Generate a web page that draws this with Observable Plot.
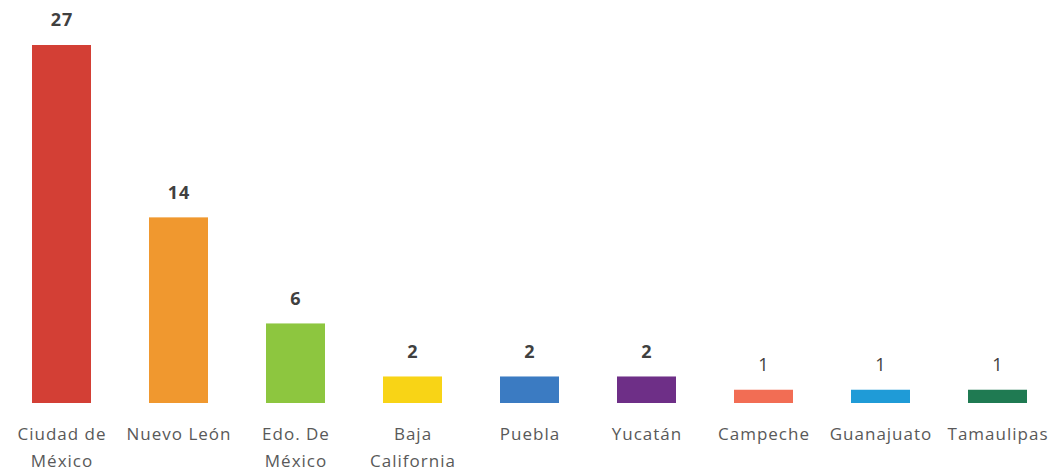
<!DOCTYPE html>
<html><head><meta charset="utf-8">
<script src="https://cdn.jsdelivr.net/npm/d3@7"></script>
<script src="https://cdn.jsdelivr.net/npm/@observablehq/plot@0.6"></script>
<style>body{margin:0;background:#fff;} </style>
</head><body><div id="chart"></div>
<script>
const states = ["Ciudad de\nMéxico", "Nuevo León", "Edo. De\nMéxico", "Baja\nCalifornia", "Puebla", "Yucatán", "Campeche", "Guanajuato", "Tamaulipas"];
const counts = [27, 14, 6, 2, 2, 2, 1, 1, 1];
const colors = ["#d33f35", "#f0982f", "#8dc63f", "#f8d416", "#3b7bc2", "#6e2f87", "#f26d54", "#1f9bd7", "#1f7a52"];
const data = states.map((s, i) => ({state: s, count: counts[i], color: colors[i]}));

const chart = Plot.plot({
  width: 1056, height: 473,
  marginTop: 45, marginBottom: 70, marginLeft: 2, marginRight: 0,
  style: {fontFamily: "'Open Sans', sans-serif", fontSize: "17px", color: "#595959", background: "#fff", letterSpacing: "1px", overflow: "visible"},
  x: {domain: states, paddingInner: 0.5, paddingOuter: 0.25, label: null},
  y: {domain: [0, 27], axis: null},
  marks: [
    Plot.barY(data, {x: "state", y: "count", fill: "color"}),
    Plot.text(data.filter(d => d.count > 1), {x: "state", y: "count", text: d => String(d.count), dy: -25, fontSize: 18, fontWeight: "bold", fill: "#404040"}),
    Plot.text(data.filter(d => d.count <= 1), {x: "state", y: "count", text: d => String(d.count), dy: -25, fontSize: 18, fill: "#404040"}),
    Plot.axisX({tickSize: 0, tickPadding: 18, fontSize: 17, lineHeight: 1.55, fill: "#595959"})
  ]
});
document.getElementById("chart").appendChild(chart);
</script></body></html>
